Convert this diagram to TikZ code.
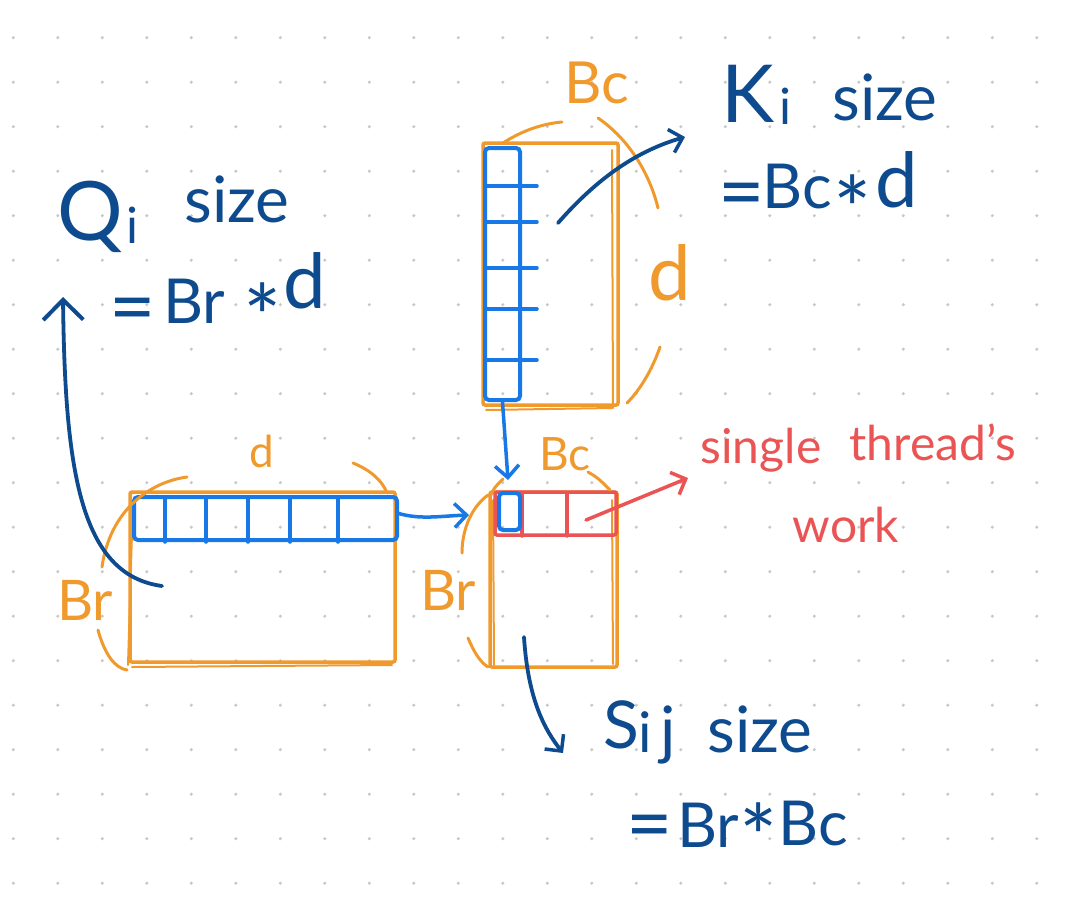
\documentclass[tikz,border=0pt]{standalone}
\usepackage{fontspec}
\setmainfont{Lato}
\usetikzlibrary{arrows.meta}
\definecolor{ora}{HTML}{F09A2E}
\definecolor{blu}{HTML}{1778E6}
\definecolor{dblu}{HTML}{0D4A8E}
\definecolor{rd}{HTML}{EA5454}
\definecolor{dotc}{HTML}{C8C8C8}
\newcommand{\myfs}[1]{\fontsize{#1}{#1}\selectfont}
\begin{document}
\begin{tikzpicture}[x=1pt,y=-1pt,
  obox/.style={draw=ora, line width=3.5pt, rounded corners=2pt, inner sep=0pt, fill=none},
  bbox/.style={draw=blu, line width=4pt, rounded corners=4pt, inner sep=0pt},
  rbox/.style={draw=rd, line width=3.5pt, rounded corners=2pt, inner sep=0pt},
  oarc/.style={draw=ora, line width=3pt, line cap=round},
  othin/.style={draw=ora, line width=2pt, line cap=round},
  bline/.style={draw=blu, line width=3.5pt, line cap=round},
  rline/.style={draw=rd, line width=3.5pt, line cap=round},
  tip/.style={-{Straight Barb[length=12pt,width=24pt,line width=3.5pt]}},
  bigtip/.style={-{Straight Barb[length=20pt,width=40pt,line width=4pt]}},
  darr/.style={draw=dblu, line width=3.8pt, line cap=round},
  tx/.style={inner sep=0pt, anchor=base, text=dblu},
  otx/.style={inner sep=0pt, anchor=base, text=ora},
  rtx/.style={inner sep=0pt, anchor=base, text=rd}]
\useasboundingbox (0,0) rectangle (1066,902);
\fill[white] (0,0) rectangle (1066,902);
\foreach \i in {0,...,23}{\foreach \j in {0,...,19}{\fill[dotc] (13.3+44.5*\i, 37.7+44.5*\j) circle (1.7pt);}}

% ---------- K block ----------
\node[obox, minimum width=135pt, minimum height=262pt] (K) at (550.5,274) {};
\draw[othin] (612,150) -- (613,408);
\draw[othin] (486,410) -- (612,408);
\node[bbox, minimum width=35pt, minimum height=252pt] (Kc) at (502.5,274) {};
\foreach \y in {186,222,268,309,360}{\draw[bline] (485,\y) -- (537,\y);}
\draw[oarc] (503,143) .. controls (520,132) and (540,124) .. (562,122);
\draw[oarc] (598,118) .. controls (630,140) and (650,175) .. (658,208);
\draw[oarc] (660,347) .. controls (652,370) and (640,390) .. (627,403);
\node[otx] (lKbc) at (597,103) {\myfs{58}Bc};
\node[otx] (lKd) at (670,300) {\myfs{76}d};

% ---------- Q block ----------
\node[obox, minimum width=265pt, minimum height=170pt] (Q) at (262.5,577) {};
\draw[othin] (133,500) -- (128,665);
\draw[othin] (132,667) -- (392,665);
\node[bbox, minimum width=263pt, minimum height=43pt] (Qr) at (265.5,518.5) {};
\foreach \x in {165,206,248,290,338}{\draw[bline] (\x,499) -- (\x,542);}
\draw[oarc] (187,477) .. controls (150,482) and (110,510) .. (102,567);
\draw[oarc] (98,630) .. controls (105,655) and (115,668) .. (127,670);
\draw[oarc] (353,463) .. controls (370,470) and (382,480) .. (387,493);
\node[otx] (lQd) at (262,467) {\myfs{44}d};
\node[otx] (lQbr) at (85,620) {\myfs{56}Br};

% ---------- S block ----------
\node[obox, minimum width=127pt, minimum height=175pt] (S) at (553.5,579.5) {};
\draw[othin] (493,500) -- (494,665);
\draw[othin] (612,500) -- (613,664);
\node[rbox, minimum width=121pt, minimum height=43pt] (Sr) at (555.5,513.5) {};
\foreach \x in {522,567}{\draw[rline] (\x,494) -- (\x,536);}
\node[bbox, minimum width=21pt, minimum height=37pt] (Sc) at (509.5,511.5) {};
\draw[oarc] (490,497) .. controls (494,488) .. (503,479);
\draw[oarc] (588,472) .. controls (598,478) .. (610,490);
\draw[oarc] (488,495) .. controls (468,510) and (462,535) .. (462,553);
\draw[oarc] (468,638) .. controls (474,652) and (480,662) .. (488,667);
\node[otx] (lSbc) at (565,470) {\myfs{46}Bc};
\node[otx] (lSbr) at (448,610) {\myfs{56}Br};

% ---------- connectors ----------
\coordinate (kcS) at (508,480);
\draw[bline, tip] (Kc.south) -- (kcS);
\coordinate (qrE) at (397,513);
\coordinate (sW) at (469,515);
\draw[bline, tip] (qrE) .. controls (420,520) and (440,516) .. (sW);

\coordinate (kA) at (558,223);
\coordinate (kT) at (685,137);
\draw[darr, tip] (kA) .. controls (600,175) and (640,150) .. (kT);

\coordinate (sA) at (586,520);
\coordinate (sT) at (688,478);
\draw[rline, tip] (sA) -- (sT);

\coordinate (qA) at (162,586);
\coordinate (qT) at (63,297);
\draw[darr, bigtip] (qA) .. controls (80,575) and (65,470) .. (qT);

\coordinate (sbA) at (524,637);
\coordinate (sbT) at (563,753);
\draw[darr, tip] (sbA) .. controls (528,700) and (545,730) .. (sbT);

% ---------- texts ----------
\node[tx] (tQ) at (90,240) {\myfs{82}Q};
\node[tx] (tQi) at (132,243) {\myfs{50}i};
\node[tx] (tQs) at (237,222) {\myfs{64}size};
\node[tx] (tQeq) at (133,334) {\myfs{80}=};
\node[tx] (tQbr) at (194,323) {\myfs{62}Br};
\node[tx] (tQst) at (263,350) {\myfs{90}*};
\node[tx] (tQd) at (305,308) {\myfs{76}d};

\node[tx] (tK) at (748,122) {\myfs{80}K};
\node[tx] (tKi) at (785,124) {\myfs{50}i};
\node[tx] (tKs) at (885,120) {\myfs{64}size};
\node[tx] (tKeq) at (742,219) {\myfs{80}=};
\node[tx] (tKbc) at (797,208) {\myfs{62}Bc};
\node[tx] (tKst) at (853,242) {\myfs{90}*};
\node[tx] (tKd) at (897,207) {\myfs{76}d};

\node[tx] (tS) at (621,748) {\myfs{66}S};
\node[tx] (tSi) at (645,752) {\myfs{56}i};
\node[tx] (tSj) at (668,752) {\myfs{64}j};
\node[tx] (tSs) at (760,752) {\myfs{64}size};
\node[tx] (tSeq) at (650,851) {\myfs{80}=};
\node[tx] (tSbr) at (708,847) {\myfs{62}Br};
\node[tx] (tSst) at (759,870) {\myfs{90}*};
\node[tx] (tSbc) at (813,845) {\myfs{62}Bc};

\node[rtx] (tR1) at (761,463) {\myfs{48}single};
\node[rtx] (tR2) at (933,460) {\myfs{48}thread's};
\node[rtx] (tR3) at (846,542) {\myfs{48}work};
\end{tikzpicture}
\end{document}
